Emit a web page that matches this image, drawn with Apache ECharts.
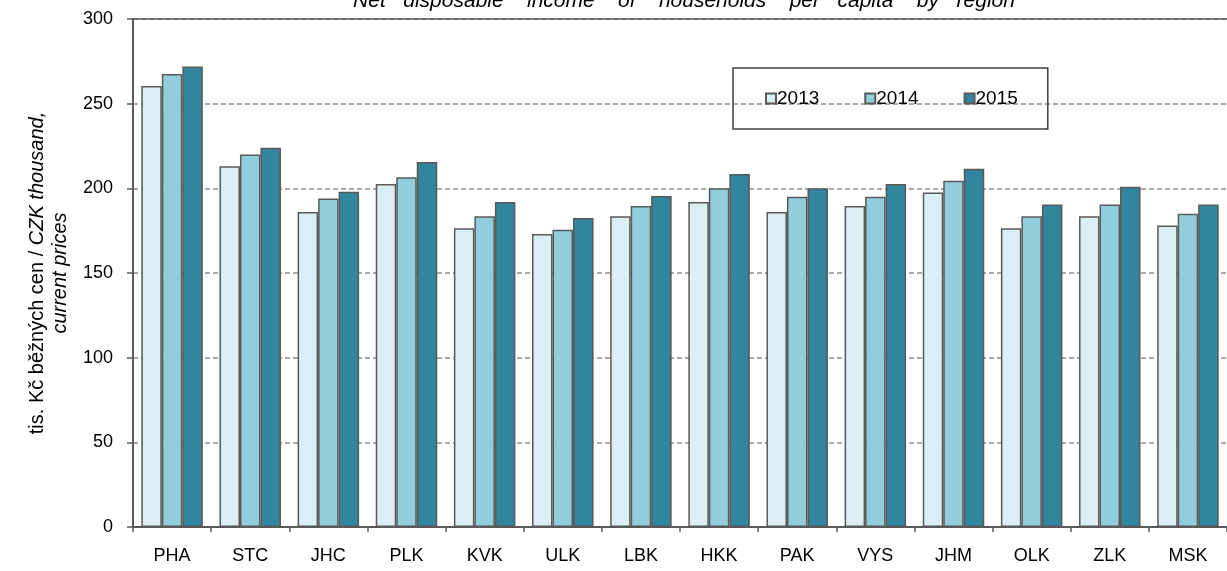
<!DOCTYPE html>
<html>
<head>
<meta charset="utf-8">
<script src="https://cdn.jsdelivr.net/npm/echarts@6/dist/echarts.min.js"></script>
<style>
  html, body { margin: 0; padding: 0; background: #fff; }
  #main { width: 1227px; height: 571px; }
</style>
</head>
<body>
<div id="main"></div>
<script>
// regions (kraje)
const regions = ['PHA', 'STC', 'JHC', 'PLK', 'KVK', 'ULK', 'LBK', 'HKK', 'PAK', 'VYS', 'JHM', 'OLK', 'ZLK', 'MSK'];
const years = ['2013', '2014', '2015'];
// tis. Kč per capita
const val2013 = [260.5, 213, 186, 202.5, 176.5, 173, 183.5, 192, 186, 189.5, 197.5, 176.5, 183.5, 178];
const val2014 = [267.5, 220, 194, 206.5, 183.5, 175.5, 189.5, 200, 195, 195, 204.5, 183.5, 190.5, 185];
const val2015 = [272, 224, 198, 215.5, 192, 182.5, 195.5, 208.5, 200, 202.5, 211.5, 190.5, 201, 190.5];
const yTicks = [0, 50, 100, 150, 200, 250, 300];

const colors = ['#DAEEF3', '#92CDDC', '#31859C'];
const font = '"Liberation Sans", Arial, sans-serif';

const chart = echarts.init(document.getElementById('main'));

const mkSeries = (name, data, i) => ({
    name,
    type: 'bar',
    data,
    barWidth: 20.5,
    barGap: '0%',
    itemStyle: { color: colors[i], borderColor: '#595959', borderWidth: 1.5 },
    emphasis: { disabled: true },
});

chart.setOption({
    animation: false,
    textStyle: { fontFamily: font },
    title: {
        text: 'Net   disposable    income    of    households    per   capita    by   region',
        left: 679,
        textAlign: 'center',
        top: -14,
        textStyle: { fontFamily: font, fontSize: 21, fontWeight: 'normal', fontStyle: 'italic', color: '#000' },
    },
    legend: {
        data: years,
        left: 733,
        top: 68,
        padding: [21, 30, 21, 32],
        borderWidth: 1.5,
        borderColor: '#404040',
        itemWidth: 10,
        itemHeight: 10,
        itemGap: 45,
        icon: 'rect',
        textStyle: { fontFamily: font, fontSize: 19, color: '#000', padding: [0, 0, 0, -4] },
    },
    grid: { left: 133, top: 19, bottom: 44, width: 1098 },
    xAxis: [{
        type: 'category',
        data: regions,
        axisLine: { lineStyle: { color: '#595959', width: 2 } },
        axisTick: { show: true, length: 5, lineStyle: { color: '#595959', width: 1.5 } },
        axisLabel: { fontFamily: font, fontSize: 18, color: '#000', margin: 20 },
    }, {
        type: 'category',
        position: 'top',
        data: regions,
        axisLine: { show: true, lineStyle: { color: '#595959', width: 1.5 } },
        axisTick: { show: false },
        axisLabel: { show: false },
    }],
    yAxis: {
        type: 'value',
        min: yTicks[0],
        max: yTicks[yTicks.length - 1],
        interval: 50,
        axisLine: { show: true, lineStyle: { color: '#595959', width: 2 } },
        axisTick: { show: true, length: 6, lineStyle: { color: '#595959', width: 1.5 } },
        axisLabel: { fontFamily: font, fontSize: 18, color: '#000', margin: 20 },
        splitLine: { show: true, lineStyle: { color: '#8c8c8c', type: [5, 3], width: 1.5 } },
        name: '{n|tis. Kč běžných cen / }{i|CZK thousand,}\n{i|current prices}',
        nameLocation: 'middle',
        nameRotate: 90,
        nameGap: 54,
        nameTextStyle: {
            align: 'center',
            lineHeight: 23,
            rich: {
                n: { fontFamily: font, fontSize: 20, color: '#000', lineHeight: 23 },
                i: { fontFamily: font, fontSize: 20, color: '#000', fontStyle: 'italic', lineHeight: 23 },
            },
        },
    },
    series: [
        mkSeries(years[0], val2013, 0),
        mkSeries(years[1], val2014, 1),
        mkSeries(years[2], val2015, 2),
    ],
});
</script>
</body>
</html>
